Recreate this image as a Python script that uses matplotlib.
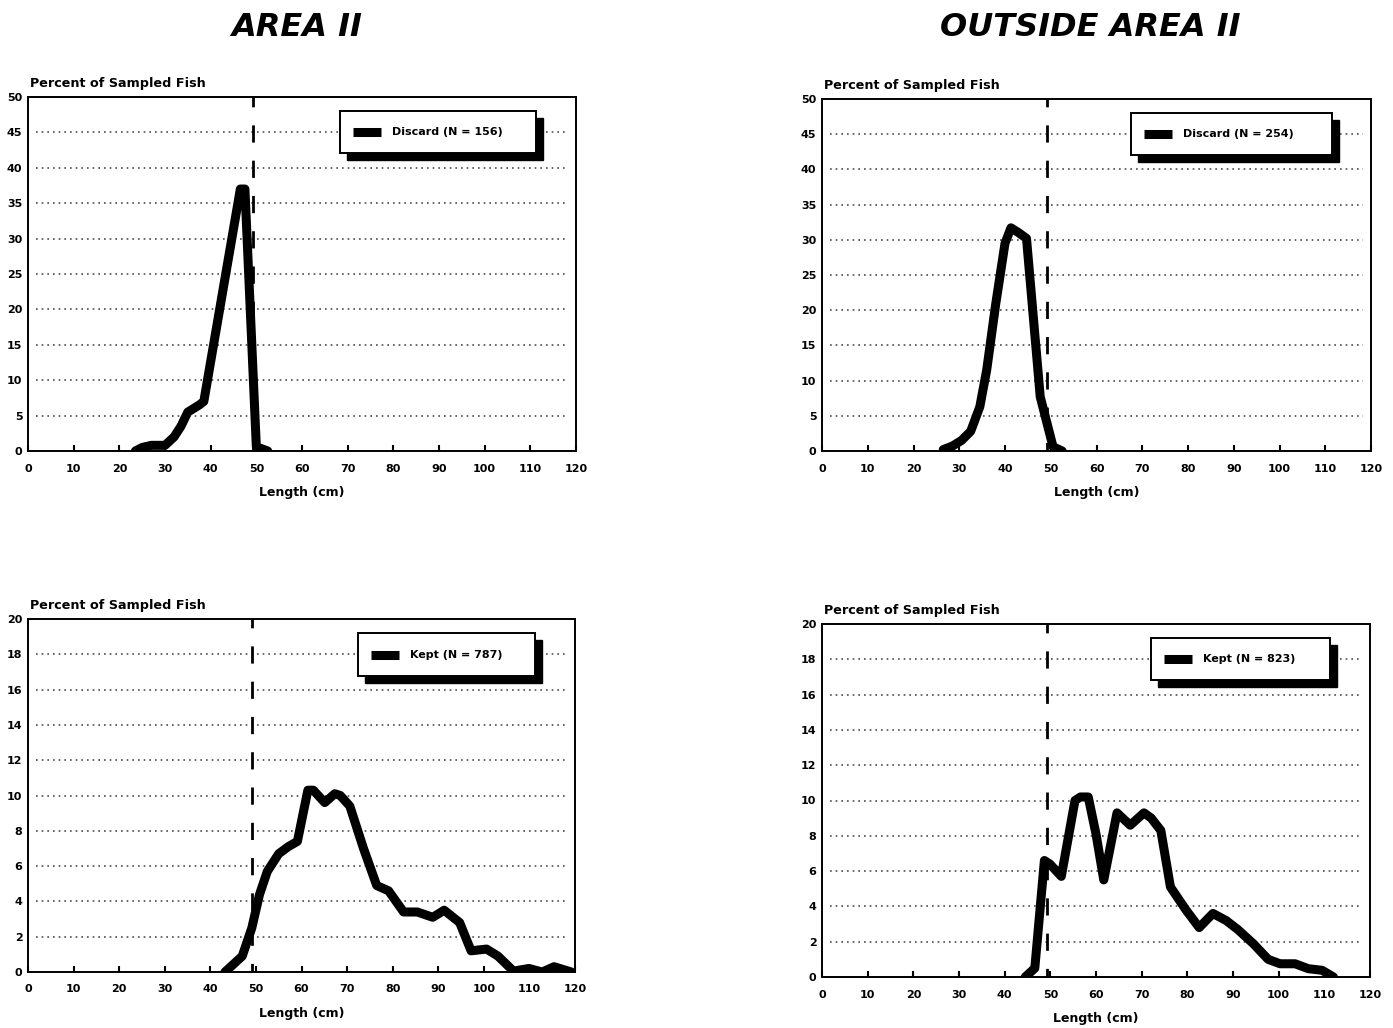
import matplotlib
matplotlib.use("Agg")
import matplotlib.pyplot as plt
from matplotlib.patches import Rectangle
from matplotlib.lines import Line2D

# length (cm) and percent of sampled fish
disc_a2_x = [23.5, 25, 27, 30, 32, 33.5, 35, 37.5, 38.5, 46.5, 47.5, 50, 52.5]
disc_a2_y = [0, 0.5, 0.8, 0.8, 2.0, 3.5, 5.5, 6.5, 7.0, 37, 37, 0.6, 0]

disc_out_x = [26.5, 28.5, 30.5, 32.5, 34.5, 36, 38, 40, 41.3, 43, 44.7, 47.7, 50.5, 52.5]
disc_out_y = [0.2, 0.7, 1.5, 2.8, 6.3, 11.5, 21, 29.5, 31.7, 31, 30.2, 7.7, 0.6, 0]

kept_a2_x = [43.2, 44.9, 47, 49.1, 50.8, 52.5, 55, 57.1, 59.1, 61.4, 62.6, 65.1, 67.3,
             68.5, 70.6, 73.6, 76.5, 79.1, 82.4, 85.4, 88.8, 91.3, 94.7, 97.2, 100.6,
             103.1, 106.5, 109.9, 112.8, 115.4, 119.2]
kept_a2_y = [0, 0.4, 0.9, 2.5, 4.4, 5.7, 6.7, 7.1, 7.4, 10.3, 10.3, 9.6, 10.1,
             10.0, 9.4, 7.0, 4.9, 4.6, 3.4, 3.4, 3.1, 3.5, 2.8, 1.2, 1.3,
             0.9, 0.05, 0.2, 0, 0.3, 0]

kept_out_x = [44.5, 46.6, 48.7, 49.9, 52.4, 55.4, 56.6, 58.3, 60, 61.7, 64.6, 67.5, 70.5,
              72.1, 74.2, 76.3, 79.7, 82.6, 85.6, 88.5, 91, 94.4, 97.7, 100.3, 103.6,
              106.5, 109.5, 112]
kept_out_y = [0, 0.5, 6.6, 6.4, 5.7, 10.0, 10.2, 10.2, 8.1, 5.5, 9.3, 8.6, 9.3,
              9.0, 8.3, 5.1, 3.8, 2.8, 3.6, 3.2, 2.7, 1.9, 1.0, 0.75, 0.75,
              0.47, 0.38, 0]

labels = ["Discard (N = 156)", "Discard (N = 254)", "Kept (N = 787)", "Kept (N = 823)"]
titles = ["AREA II", "OUTSIDE AREA II"]
ymaxes = [50, 50, 20, 20]
min_size = 49.2

W, H = 1393, 1028
plt.rcParams['font.family'] = ['DejaVu Sans']
plt.rcParams['font.weight'] = 'bold'

fig = plt.figure(figsize=(W / 100, H / 100), dpi=100)

# axes boxes in pixels: left, top, right, bottom
boxes = [(28, 97, 576, 451), (822, 99, 1371, 451),
         (28, 619, 575, 972), (822, 624, 1370, 977)]
# legend frames in pixels
leg_boxes = [(340, 111, 536, 153), (1131, 113, 1332, 155),
             (358, 633, 535, 676), (1151, 638, 1330, 680)]
series = [(disc_a2_x, disc_a2_y), (disc_out_x, disc_out_y),
          (kept_a2_x, kept_a2_y), (kept_out_x, kept_out_y)]


def fx(px):
    return px / W


def fy(py):
    return 1 - py / H


for i, (box, (xs, ys)) in enumerate(zip(boxes, series)):
    l, t, r, b = box
    ax = fig.add_axes([fx(l), fy(b), fx(r) - fx(l), (b - t) / H])
    ymax = ymaxes[i]
    step = 5 if ymax == 50 else 2
    ax.set_xlim(0, 120)
    ax.set_ylim(0, ymax)
    ax.set_xticks(range(0, 121, 10))
    ax.set_yticks(range(0, ymax + 1, step))
    ax.tick_params(axis='x', direction='in', length=4, width=1.5, pad=9, labelsize=8)
    ax.tick_params(axis='y', length=0, pad=4, labelsize=8)
    for lab in ax.get_xticklabels() + ax.get_yticklabels():
        lab.set_fontweight('bold')
    for sp in ax.spines.values():
        sp.set_linewidth(1.4)
    for yv in range(step, ymax, step):
        ax.axhline(yv, xmin=0.015, xmax=0.985, color='0.3', lw=1.2,
                   ls=(0, (1, 2.4)), zorder=1)
    ax.axvline(min_size, color='black', lw=2, ls=(3.1, (6.2, 6.5)), zorder=2)
    ax.plot(xs, ys, color='black', lw=6.5, solid_joinstyle='round',
            solid_capstyle='round', zorder=3)
    ax.set_xlabel("Length (cm)", fontsize=9, fontweight='bold', labelpad=9)
    ax.annotate("Percent of Sampled Fish", xy=(0, 1), xycoords='axes fraction',
                xytext=(1.5, 9.5), textcoords='offset points', va='center',
                ha='left', fontsize=9.2, fontweight='bold')

    # legend with a solid drop shadow
    ll, lt, lr, lb = leg_boxes[i]
    fig.add_artist(Rectangle((fx(ll + 7), fy(lb + 7)), fx(lr) - fx(ll), (lb - lt) / H,
                             transform=fig.transFigure, facecolor='black',
                             edgecolor='black', zorder=10))
    fig.add_artist(Rectangle((fx(ll), fy(lb)), fx(lr) - fx(ll), (lb - lt) / H,
                             transform=fig.transFigure, facecolor='white',
                             edgecolor='black', lw=1.4, zorder=11))
    ymid = (lt + lb) / 2
    fig.add_artist(Line2D([fx(ll + 13), fx(ll + 41)], [fy(ymid), fy(ymid)],
                          transform=fig.transFigure, color='black', lw=6.5,
                          solid_capstyle='butt', zorder=12))
    fig.text(fx(ll + 52), fy(ymid), labels[i], fontsize=8, fontweight='bold',
             va='center', ha='left', zorder=12)

fig.text(fx(297), fy(28), titles[0], fontsize=23, fontweight='bold',
         style='italic', ha='center', va='center')
fig.text(fx(1090), fy(28), titles[1], fontsize=23, fontweight='bold',
         style='italic', ha='center', va='center')

fig.savefig("out.png", dpi=100, facecolor='white')
